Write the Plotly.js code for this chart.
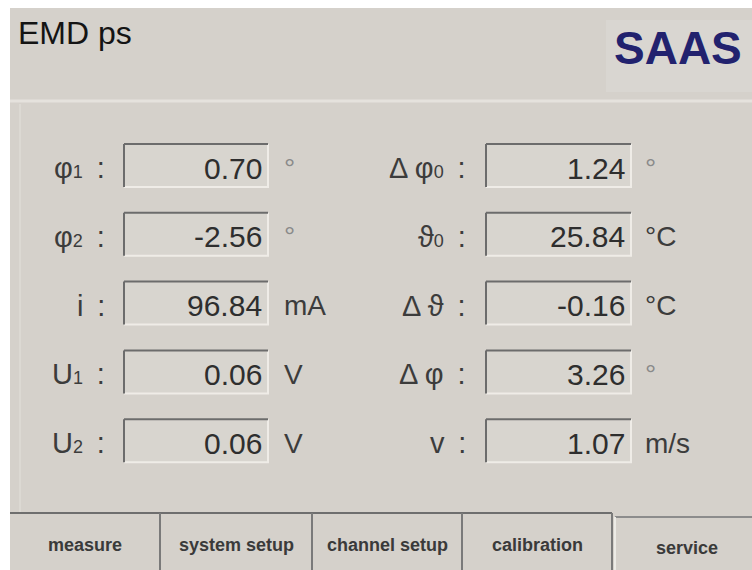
<!DOCTYPE html>
<html>
<head>
<meta charset="utf-8">
<script src="https://cdn.plot.ly/plotly-3.0.1.min.js"></script>
<style>html,body{margin:0;padding:0;background:#fff;}#chart{width:752px;height:570px;}</style>
</head>
<body>
<div id="chart"></div>
<script>
// ---- data ----
const screenTitle = 'EMD ps';
const logoText = 'SAAS';
const leftSymbols = ['φ', 'φ', 'i', 'U', 'U'];
const leftSubs = ['1', '2', '', '1', '2'];
const leftValues = [0.70, -2.56, 96.84, 0.06, 0.06];
const leftUnits = ['°', '°', 'mA', 'V', 'V'];
const rightSymbols = ['Δ φ', 'ϑ', 'Δ ϑ', 'Δ φ', 'v'];
const rightSubs = ['0', '0', '', '', ''];
const rightValues = [1.24, 25.84, -0.16, 3.26, 1.07];
const rightUnits = ['°', '°C', '°C', '°', 'm/s'];
const tabs = ['measure', 'system setup', 'channel setup', 'calibration', 'service'];

// ---- layout ----
const FONT = 'Liberation Sans, Arial, sans-serif';
const BG = '#d5d1cb';
const NB = '\u00a0';
const shapes = [];
const ann = [];
function rect(x0, y0, x1, y1, fill) {
  shapes.push({type: 'rect', xref: 'x', yref: 'y', x0, y0, x1, y1, fillcolor: fill, line: {width: 0}, layer: 'below'});
}
function line(x0, y0, x1, y1, color, w) {
  shapes.push({type: 'line', xref: 'x', yref: 'y', x0, y0, x1, y1, line: {color, width: w}});
}
function text(t, x, y, size, color, xanchor, extra) {
  ann.push(Object.assign({text: t, x, y, xref: 'x', yref: 'y', showarrow: false, xanchor: xanchor || 'left', yanchor: 'middle',
    font: {family: FONT, size, color}}, extra || {}));
}

rect(10, 8, 752, 570, BG);
rect(606, 20, 752, 92, '#d9d6d1');
line(10, 101, 752, 101, '#e5e2dd', 3);
line(20, 104, 20, 512, '#dcd9d3', 2);

text(screenTitle, 16, 33, 32, '#141414', 'left');
text('<b>' + logoText + '</b>', 678, 48, 46, '#22226e', 'center');

const rowTop0 = 144, rowStep = 68.8, boxH = 43;
const cols = [
  {syms: leftSymbols, subs: leftSubs, vals: leftValues, units: leftUnits, bx0: 124, bx1: 268, labelX: 107, unitX: 282},
  {syms: rightSymbols, subs: rightSubs, vals: rightValues, units: rightUnits, bx0: 486, bx1: 631, labelX: 468, unitX: 643}
];
cols.forEach(c => {
  c.vals.forEach((v, i) => {
    const y0 = rowTop0 + i * rowStep, y1 = y0 + boxH;
    rect(c.bx0, y0, c.bx1, y1, '#d8d5cf');
    line(c.bx0, y1, c.bx1 + 1, y1, '#efece7', 2);
    line(c.bx1, y0, c.bx1, y1, '#efece7', 2);
    line(c.bx0, y0, c.bx1, y0, '#6c6c6c', 2);
    line(c.bx0, y0, c.bx0, y1, '#6c6c6c', 2);
    const yc = y0 + 24;
    text(v.toFixed(2), c.bx1 - 4, yc, 30, '#2e2e2e', 'right');
    const sub = c.subs[i] ? '<span style="font-size:18px">' + c.subs[i] + '</span>' : '';
    text(c.syms[i] + sub + NB + '\u2009:', c.labelX, yc, 29, '#3c3c3c', 'right');
    const u = c.units[i];
    text(u, c.unitX, yc, 28, u === '°' ? '#8a8a8a' : '#3c3c3c', 'left');
  });
});

// tabs
const tabEdges = [10, 160, 312, 462, 612, 762];
line(10, 513, 612, 513, '#6e6e6e', 2);
line(615, 517, 752, 517, '#8c8c8c', 2);
[160, 312, 462, 612].forEach(x => line(x, 513, x, 570, '#7a7a7a', 2));
line(615, 517, 615, 570, '#ecebe6', 2);
tabs.forEach((t, i) => {
  const xc = (tabEdges[i] + tabEdges[i + 1]) / 2;
  text('<b>' + t + '</b>', xc, i === 4 ? 548 : 545, 18, '#3a3a3a', 'center');
});

const layout = {
  width: 752, height: 570,
  margin: {l: 0, r: 0, t: 0, b: 0, pad: 0},
  paper_bgcolor: '#ffffff', plot_bgcolor: '#ffffff',
  xaxis: {range: [0, 752], visible: false, fixedrange: true},
  yaxis: {range: [570, 0], visible: false, fixedrange: true},
  shapes, annotations: ann, showlegend: false
};
Plotly.newPlot('chart', [{x: [], y: [], type: 'scatter', hoverinfo: 'skip'}], layout, {staticPlot: true, displayModeBar: false});
</script>
</body>
</html>
